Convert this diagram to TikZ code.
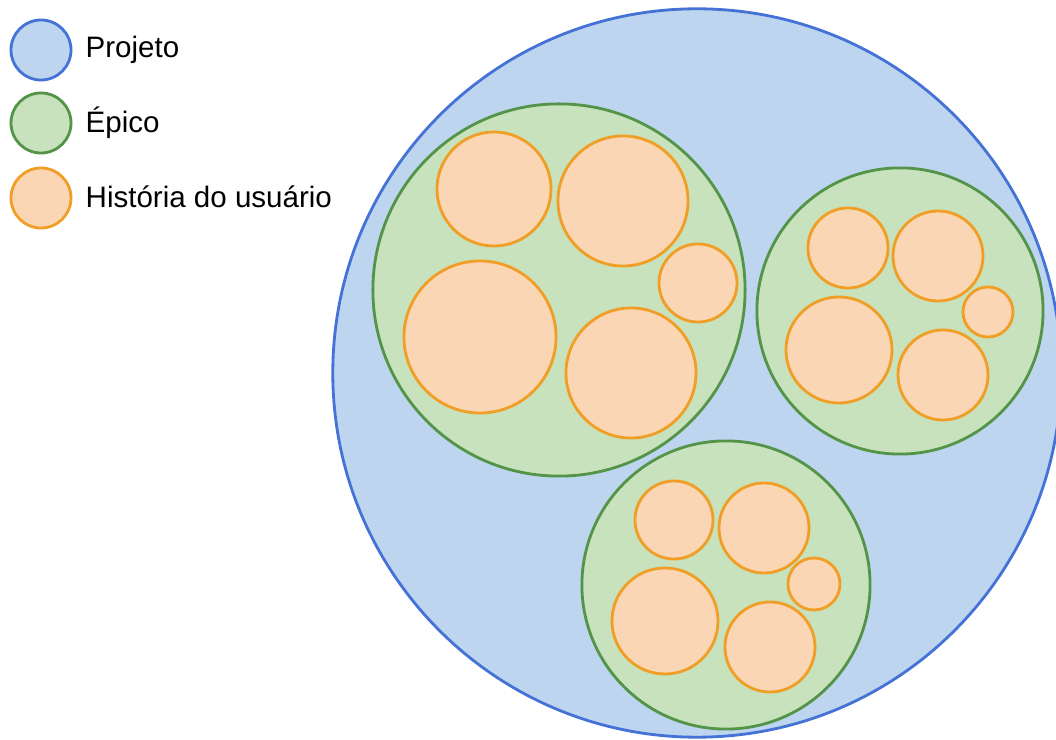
\documentclass[tikz,border=0pt]{standalone}
\usepackage{fontspec}
\setmainfont{Liberation Sans}
\usepackage{xcolor}
\usepackage{tikz}
\usetikzlibrary{positioning}
\definecolor{projfill}{RGB}{189,213,238}
\definecolor{projline}{RGB}{68,114,214}
\definecolor{epicfill}{RGB}{199,226,188}
\definecolor{epicline}{RGB}{84,148,72}
\definecolor{storyfill}{RGB}{250,214,180}
\definecolor{storyline}{RGB}{240,158,38}

\begin{document}
\begin{tikzpicture}[
    x=0.01cm, y=-0.01cm,
    bubble/.style={circle, inner sep=0pt, outer sep=0pt, line width=0.8pt, minimum size=#1},
    project/.style={bubble=#1, draw=projline, fill=projfill},
    epic/.style={bubble=#1, draw=epicline, fill=epicfill},
    story/.style={bubble=#1, draw=storyline, fill=storyfill},
    legtext/.style={font=\fontsize{8.4}{10}\selectfont, anchor=base west, inner sep=0pt}
]
\useasboundingbox (0,0) rectangle (1056,740);
\clip (0,0) rectangle (1056,740);

% Legend
\node[project=0.6cm] (lproj) at (41,50) {};
\node[epic=0.6cm] (lepic) at (41,123) {};
\node[story=0.6cm] (lstory) at (41,198) {};
\node[legtext] (tproj) at (85,58) {Projeto};
\node[legtext] (tepic) at (85,133) {Épico};
\node[legtext] (tstory) at (85,208) {História do usuário};

% Project
\node[project=7.28cm] (proj) at (697,373) {};

% Epics
\node[epic=3.72cm] (epicA) at (559,290) {};
\node[epic=2.86cm] (epicB) at (900,311) {};
\node[epic=2.88cm] (epicC) at (726,585) {};

% Stories of epic A
\node[story=1.14cm] (a1) at (494,189) {};
\node[story=1.30cm] (a2) at (623,201) {};
\node[story=0.78cm] (a3) at (698,283) {};
\node[story=1.52cm] (a4) at (480,337) {};
\node[story=1.30cm] (a5) at (631,373) {};

% Stories of epic B
\node[story=0.80cm] (b1) at (848,248) {};
\node[story=0.90cm] (b2) at (938,256) {};
\node[story=0.50cm] (b3) at (988,312) {};
\node[story=1.06cm] (b4) at (839,350) {};
\node[story=0.90cm] (b5) at (943,375) {};

% Stories of epic C
\node[story=0.78cm] (c1) at (674,520) {};
\node[story=0.90cm] (c2) at (764,528) {};
\node[story=0.52cm] (c3) at (814,584) {};
\node[story=1.06cm] (c4) at (665,621) {};
\node[story=0.90cm] (c5) at (770,647) {};
\end{tikzpicture}
\end{document}
